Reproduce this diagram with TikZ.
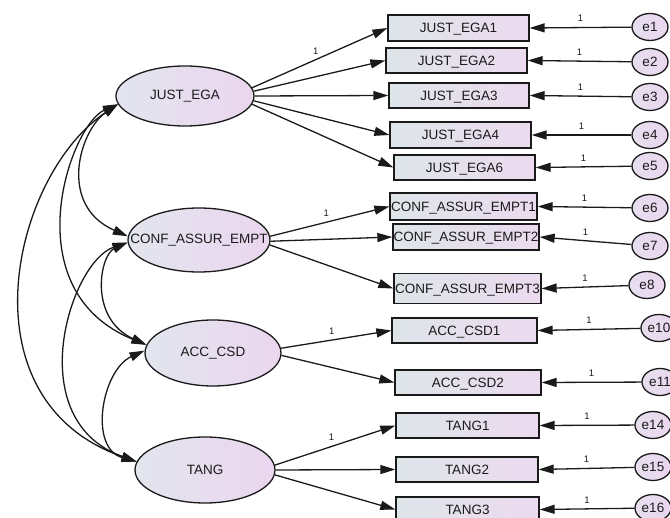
\documentclass[tikz,border=0pt]{standalone}
\usepackage{fontspec}
\setmainfont{Liberation Sans}
\usetikzlibrary{shapes.geometric,arrows.meta}
\definecolor{ink}{HTML}{1A1A1A}
\definecolor{latL}{HTML}{E2E5EE}
\definecolor{latR}{HTML}{EBD6EF}
\definecolor{boxL}{HTML}{DEE5E9}
\definecolor{boxR}{HTML}{ECDAEF}
\tikzset{
  tip/.tip={Triangle[length=15pt,width=9pt]},
  latent/.style={ellipse, draw=ink, line width=1.3pt, left color=latL, right color=latR,
    inner sep=0pt, font=\fontsize{13.5}{15}\selectfont, text=ink},
  obs/.style={rectangle, draw=ink, line width=1.3pt, left color=boxL, right color=boxR,
    inner sep=0pt, text depth=0pt, font=\fontsize{13.5}{15}\selectfont, text=ink},
  errnode/.style={ellipse, draw=ink, line width=1.3pt, left color=latL!60!latR, right color=latR,
    minimum width=36pt, minimum height=27pt, inner sep=0pt, text depth=0pt,
    font=\fontsize{13.5}{15}\selectfont, text=ink},
  load/.style={draw=ink, line width=1.3pt, -tip},
  covarc/.style={draw=ink, line width=1.3pt, tip-tip},
  wt/.style={font=\fontsize{9.5}{11}\selectfont, inner sep=0pt, text=ink}
}
\begin{document}
\begin{tikzpicture}[x=1pt,y=-1pt]
\useasboundingbox (0,0) rectangle (670,518);
\clip (0,0) rectangle (670,518);

% latent factors
\node[latent, minimum width=138pt, minimum height=60pt] (JE) at (185,96) {\makebox[0pt]{JUST\_EGA}};
\node[latent, minimum width=142pt, minimum height=64pt] (CA) at (199,240) {\makebox[0pt]{CONF\_ASSUR\_EMPT}};
\node[latent, minimum width=136pt, minimum height=66pt] (AC) at (213,353) {\makebox[0pt]{ACC\_CSD}};
\node[latent, minimum width=140pt, minimum height=66pt] (TA) at (205,470) {\makebox[0pt]{TANG}};

% observed indicators
\node[obs, minimum width=141pt, minimum height=26pt] (JE1) at (458.5,28) {JUST\_EGA1};
\node[obs, minimum width=141pt, minimum height=25pt] (JE2) at (456.5,60.5) {JUST\_EGA2};
\node[obs, minimum width=140pt, minimum height=25pt] (JE3) at (459,95.5) {JUST\_EGA3};
\node[obs, minimum width=141pt, minimum height=26pt] (JE4) at (460.5,135) {JUST\_EGA4};
\node[obs, minimum width=141pt, minimum height=25pt] (JE6) at (464.5,167.5) {JUST\_EGA6};
\node[obs, minimum width=147pt, minimum height=27pt] (CA1) at (463.5,206.5) {CONF\_ASSUR\_EMPT1};
\node[obs, minimum width=146pt, minimum height=26pt] (CA2) at (466,237) {CONF\_ASSUR\_EMPT2};
\node[obs, minimum width=147pt, minimum height=30pt] (CA3) at (467.5,288.5) {CONF\_ASSUR\_EMPT3};
\node[obs, minimum width=145pt, minimum height=25pt] (AC1) at (464.5,330.5) {ACC\_CSD1};
\node[obs, minimum width=146pt, minimum height=25pt] (AC2) at (468,382.5) {ACC\_CSD2};
\node[obs, minimum width=143pt, minimum height=25pt] (TA1) at (467.5,425.5) {TANG1};
\node[obs, minimum width=142pt, minimum height=25pt] (TA2) at (467,469.5) {TANG2};
\node[obs, minimum width=143pt, minimum height=25pt] (TA3) at (467.5,509.5) {TANG3};

% error terms
\node[errnode] (e1) at (650,27) {e1};
\node[errnode] (e2) at (650,62) {e2};
\node[errnode] (e3) at (650,97) {e3};
\node[errnode] (e4) at (650,135) {e4};
\node[errnode] (e5) at (650,166) {e5};
\node[errnode] (e6) at (650,208) {e6};
\node[errnode] (e7) at (650,246) {e7};
\node[errnode] (e8) at (647,285) {e8};
\node[errnode] (e10) at (659,328) {e10};
\node[errnode] (e11) at (660,382) {e11};
\node[errnode] (e14) at (653,425) {e14};
\node[errnode] (e15) at (653,467) {e15};
\node[errnode] (e16) at (653,508) {e16};

% factor loadings
\draw[load] (JE.7) -- node[wt, pos=.47, above=5pt] {1} (JE1.west);
\draw[load] (JE.4) -- (JE2.west);
\draw[load] (JE.0) -- (JE3.west);
\draw[load] (JE.-4) -- (JE4.west);
\draw[load] (JE.-7) -- (JE6.west);
\draw[load] (CA.3) -- node[wt, pos=.47, above=5pt] {1} (CA1.west);
\draw[load] (CA.-1) -- (CA2.west);
\draw[load] (CA.-4) -- (CA3.west);
\draw[load] (AC.4) -- node[wt, pos=.46, above=5pt] {1} (AC1.west);
\draw[load] (AC.-2) -- (AC2.west);
\draw[load] (TA.4) -- node[wt, pos=.47, above=5pt] {1} (TA1.west);
\draw[load] (TA.0) -- (TA2.west);
\draw[load] (TA.-4) -- (TA3.west);

% error paths
\foreach \e/\o in {e1/JE1,e2/JE2,e3/JE3,e4/JE4,e5/JE6,e6/CA1,e7/CA2,e8/CA3,
                   e10/AC1,e11/AC2,e14/TA1,e15/TA2,e16/TA3}
  \draw[load] (\e) -- node[wt, midway, above=5pt] {1} (\o.east);

% factor covariances
\draw[covarc] (JE.187) .. controls (80,130) and (57,205) .. (CA.177);
\draw[covarc] (JE.187) .. controls (70,125) and (12,290) .. (AC.173);
\draw[covarc] (JE.187) .. controls (12,175) and (-40,400) .. (TA.173);
\draw[covarc] (CA.182) .. controls (100,255) and (88,318) .. (AC.173);
\draw[covarc] (CA.182) .. controls (70,262) and (20,420) .. (TA.173);
\draw[covarc] (AC.178) .. controls (102,370) and (88,448) .. (TA.173);
\end{tikzpicture}
\end{document}
